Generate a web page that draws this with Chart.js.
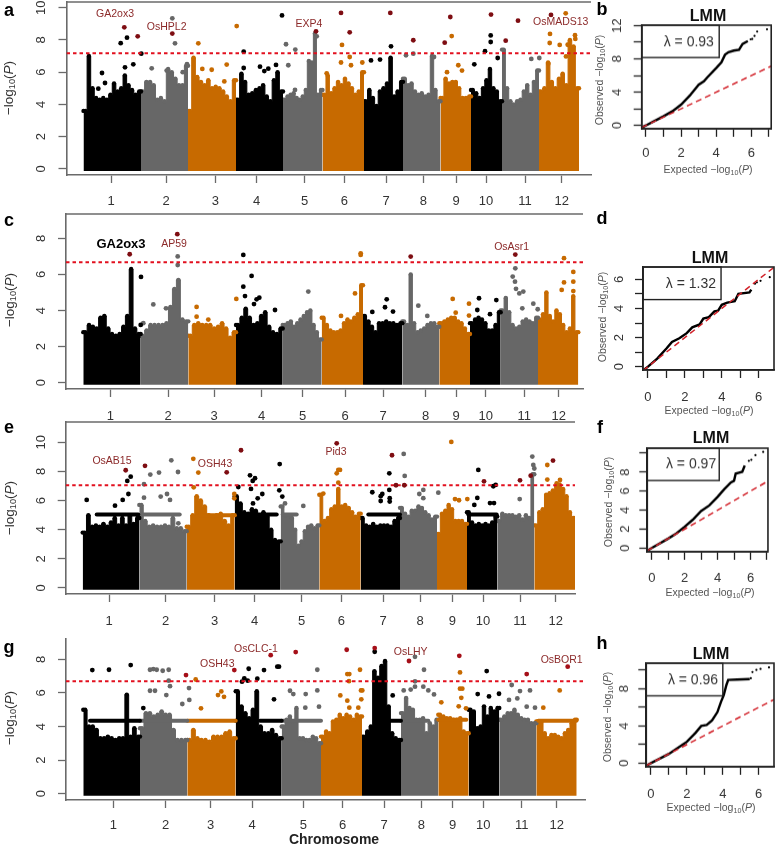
<!DOCTYPE html>
<html><head><meta charset="utf-8">
<style>
html,body{margin:0;padding:0;background:#fff;width:778px;height:845px;overflow:hidden;font-family:"Liberation Sans",Arial,sans-serif}
.wrap{position:absolute}
.t{position:absolute;white-space:nowrap;transform:translate(-50%,-50%);color:#333}
.rot{transform:translate(-50%,-50%) rotate(-90deg)}
sub{font-size:68%;line-height:0;vertical-align:-0.25em}
</style>
<script src="https://cdn.jsdelivr.net/npm/chart.js@4"></script>
</head><body>
<script>
// ---------- chromosome layout (genome position units) ----------
const chromosomes=["1","2","3","4","5","6","7","8","9","10","11","12"];
const edgesA=[0,57.5,104.5,152.5,199.5,239,280.5,319.5,357,387.5,418.5,455.5,495.5];
const edgesC=[0,57.4,105,152.7,199.4,238.4,279.7,319,356,386.7,417.4,454.7,495];
const edgesE=[0,56.6,104,152,198,236.6,278,317.3,354.3,384.3,414.6,451.6,492.3];
const edgesG=[0,56.7,104,152.4,198.4,237.7,278.7,317.7,355,385.4,416,453,493.4];
const ticksA=[27.5,82.5,131.8,173.2,221.2,260.8,302.5,339.8,372.5,402.5,441.5,478.2];
const ticksC=[27,84.7,130.7,178.4,219.4,261.7,299.7,342.4,372.7,402.4,441,475.4];
const ticksE=[26.3,83,132,172,219,258.6,300.3,337.3,369.6,400.3,437.3,473];
const ticksG=[30,82.4,127.4,168.7,220,259.4,300.7,338,369.4,400,438.4,473.4];
// ---------- upper envelope of the dense point mass, per chromosome ----------
const envA=[[3.6,7.0,5.0,4.4,4.3,4.4,4.3,4.6,5.3,4.8,5.0,5.8,5.2,4.9,4.6,4.8],
[4.8,5.4,5.4,5.2,4.3,4.4,4.2,6.2,6.0,5.6,5.2,5.2,6.4],
[3.6,6.9,5.7,5.4,5.2,5.5,5.0,5.1,5.0,4.8,4.5,4.2,5.5],
[4.3,5.9,5.4,4.6,4.7,4.9,5.0,5.2,4.5,4.2,5.5,6.0,4.8],
[4.3,4.5,4.6,4.7,4.4,4.3,4.5,4.9,6.7,6.6,8.4,4.6,4.9],
[4.6,5.8,4.7,5.0,5.4,5.2,5.6,5.3,5.0,4.6,4.8,6.0],
[4.2,4.9,4.4,3.9,4.8,5.0,5.3,6.9,4.5,4.8,5.4],
[5.6,5.2,5.3,4.8,4.6,4.7,4.5,4.6,7.0,4.9,4.2],
[4.4,5.6,5.3,5.4,5.4,5.0,4.4,4.4,4.5],
[4.9,4.7,4.4,5.0,5.5,6.2,5.0,4.8,4.2],
[7.4,5.0,4.2,4.0,4.2,4.3,4.8,5.2,4.6,5.4,6.1],
[4.8,5.0,6.6,5.4,5.0,5.6,5.9,5.2,8.0,7.6,5.0]];
const envC=[[2.8,3.2,3.1,3.0,3.6,3.7,3.0,2.7,2.6,2.7,3.1,3.7,6.3,3.0,2.7],
[2.6,2.9,3.2,3.2,3.2,3.2,3.3,4.2,5.2,5.7,3.5,3.4],
[2.6,3.2,3.3,3.2,3.2,3.2,3.0,3.1,3.3,3.0,2.5,2.8],
[3.2,3.6,4.1,3.6,3.2,3.3,3.7,3.9,3.1,2.8,2.7,3.0],
[3.2,3.3,3.4,3.1,3.3,3.5,3.7,3.9,4.0,3.2,2.8,2.4],
[3.6,3.2,2.9,2.8,2.8,2.9,3.3,3.5,3.4,3.6,3.8,5.4],
[3.7,3.4,3.1,2.8,3.3,3.3,3.4,3.3,3.3,3.2,3.3],
[3.4,3.2,6.0,3.3,2.8,2.9,3.0,3.2,3.3,3.3,3.1],
[3.3,3.4,3.5,3.6,3.6,3.4,3.3,3.0,2.7],
[3.3,3.5,3.6,3.5,3.3,2.9,2.9,3.2,3.9],
[4.0,4.7,3.9,3.2,3.0,3.1,3.4,3.5,3.4,3.3,3.6],
[3.5,3.8,5.0,3.7,3.4,4.0,3.8,3.2,2.8,3.0,4.8,2.8]];
const envE=[[3.8,5.0,4.2,4.3,4.2,4.4,4.2,4.5,4.8,4.3,4.8,4.3,5.0,4.4,4.8],
[5.7,4.6,4.2,4.3,4.2,4.2,4.3,4.2,4.8,4.1,4.1,3.9],
[4.2,5.0,6.3,6.0,5.6,5.0,4.9,5.0,5.1,4.6,4.3,5.0],
[6.3,5.8,5.2,5.1,5.4,5.3,4.9,5.2,4.9,4.0,3.3,3.2],
[5.6,5.0,5.0,4.8,4.0,2.9,3.2,3.9,4.2,4.3,4.1,4.3],
[6.4,4.6,4.8,5.4,5.6,6.8,5.6,5.7,5.5,5.2,4.9,5.1],
[4.8,4.3,4.2,4.4,4.2,4.3,4.3,4.3,4.2,4.6,4.8],
[5.5,5.1,4.9,5.3,5.3,5.6,5.5,5.2,5.0,4.7,4.9],
[3.7,5.1,5.3,5.7,5.4,4.6,4.6,4.6,4.4],
[5.2,4.5,4.3,4.4,4.3,4.4,4.3,4.5,4.9],
[4.6,5.1,5.0,5.0,5.0,4.9,5.0,4.7,5.0,4.8,7.8],
[4.3,5.2,5.4,6.4,6.5,6.7,7.0,7.1,6.8,6.3,5.2,4.8]];
const envG=[[5.0,4.0,4.0,3.8,3.3,3.3,3.4,3.3,3.2,3.3,3.3,5.9,3.4,3.9,3.4],
[3.9,4.8,4.8,4.6,4.7,4.9,4.7,4.7,3.8,3.2,3.2,3.2],
[3.2,3.8,3.3,3.2,3.2,3.1,3.4,3.4,3.4,3.6,3.7,3.3],
[6.1,5.2,4.8,4.5,5.0,6.1,4.0,3.6,3.6,3.8,3.5,3.3],
[4.0,4.4,4.6,4.3,5.1,3.3,3.3,3.2,3.2,3.4,3.3,3.0],
[3.4,3.7,3.6,4.3,4.4,4.7,4.5,4.7,4.6,4.4,4.7,4.6],
[3.4,3.7,4.0,7.3,6.9,7.6,7.9,5.2,3.6,3.3,3.2],
[4.8,5.7,5.1,5.0,4.4,4.4,4.5,3.6,4.2,4.0,4.4],
[4.7,4.6,4.5,4.5,4.4,4.4,4.5,3.7,3.6],
[5.0,4.9,3.9,4.0,5.2,4.6,5.1,4.9,5.1],
[4.4,4.6,4.8,4.8,5.0,4.7,4.5,4.4,4.4,4.2,4.2],
[4.3,4.3,3.6,3.3,3.5,3.5,3.4,3.3,3.6,3.8,4.2,4.4]];
// ---------- horizontal runs of tied P values [from,to,value,chromosome index] ----------
const bandsE=[[14,55.6,5.05,0],[60.6,97,5.05,1],[117,150,5.0,2],[157.3,194,5.05,3],[200,214,5.05,4],[285.6,317.3,5.05,6],[385.6,414,5.05,9]];
const bandsG=[[6.7,56.7,4.35,0],[56.7,104,4.35,1],[104,152.4,4.35,2],[152.4,165,4.35,3],[176.7,198.4,4.35,3],[198.4,237.7,4.35,4],[306.7,317.7,4.35,6],[317.7,345,4.35,7],[355,383,4.4,8],[455,493,4.35,11]];
// ---------- individually visible points ----------
const aRed=[[40.8,8.78],[54.2,8.22],[88.8,8.39],[232.5,8.53],[257.5,9.67],[266.2,8.47],[306.8,9.67],[329.8,7.98],[361.2,7.83],[366.8,9.42],[407.5,9.57],[422.2,7.95],[434.5,9.19],[467.5,9.55]];
const aBlack=[[43.5,8.14],[37.2,7.8],[57.8,7.15],[160.2,7.27],[198.5,9.52],[41.5,6.3],[49.8,6.49],[18.5,5.95],[21.5,5.33],[14.8,4.98],[176.5,6.34],[184.8,6.22],[180.8,6.07],[192.5,6.45],[160.2,6.26],[307.5,7.6],[287.5,6.73],[296.5,6.78],[407.2,8.28],[407.2,7.87],[401.5,7.3],[390.8,6.49],[414.2,6.88]];
const aGray=[[88.8,9.34],[91.5,7.79],[202.5,7.73],[211.8,7.4],[68.2,6.24],[83.2,6.1],[99.2,6.0],[103.5,6.5],[204.8,6.43],[211.5,4.9],[233.2,8.22],[329.8,7.15],[322.5,7.05],[350.5,6.94],[447.8,6.82],[455.8,6.88]];
const aOrange=[[114.8,7.79],[153.2,8.86],[118.8,6.2],[128.2,6.15],[143.2,6.47],[140.8,5.43],[258.5,7.69],[257.5,6.6],[266.2,6.94],[267.5,6.43],[278.8,6.6],[243.2,5.93],[368.2,8.24],[374.8,6.43],[363.5,6.0],[378.5,6.1],[482.2,9.65],[466.5,8.37],[466.2,7.81],[476.2,7.69],[484.2,7.7],[491.5,8.29],[491.8,8.06],[482.5,6.98],[464.8,6.53]];
const cRed=[[46.4,7.12],[94,8.23],[327.4,6.99],[432,7.1]];
const cBlack=[[57.7,5.86],[57.4,3.2],[160,7.08],[168.3,5.92],[160,5.32],[161.7,4.8],[173.3,4.62],[176,4.71],[170.7,4.36],[191.7,4.03],[395.7,4.68],[413,4.58],[394,4.03],[406.7,3.8],[303.4,4.62],[301.7,4.18],[289,3.92],[309.7,3.94]];
const cGray=[[94.4,7.0],[94.4,6.52],[70,4.34],[82.7,4.12],[60,3.3],[225,5.05],[335,4.27],[344,3.7],[432,6.34],[429.4,5.88],[431.7,5.6],[432.7,5.2],[440,5.05],[436,4.95],[454.4,4.07],[450,4.38],[439,4.12]];
const cOrange=[[153,4.64],[113.3,4.2],[113.3,3.66],[125,3.5],[277.4,7.08],[277.4,7.17],[480.7,6.9],[490,6.14],[480.7,5.56],[490,5.6],[490,5.08],[478.4,5.14],[369.4,4.64],[372.4,3.88],[385.7,4.38],[385.7,3.72],[271.7,4.95],[257.7,3.7]];
const eRed=[[43,8.08],[62.3,8.38],[144,7.94],[158.3,9.45],[254,9.93],[309.3,9.11],[313.3,7.05],[321.6,7.05],[401.3,7.32],[437.3,7.39],[448,7.71],[470.3,8.74]];
const eBlack=[[4,6.04],[48,7.64],[44.6,7.35],[45.7,6.45],[40,6.04],[32.3,5.65],[155.6,6.93],[167.3,7.73],[172.3,7.53],[170,7.35],[168.3,6.8],[179.6,6.45],[175,6.15],[170.3,5.8],[197,8.5],[196.6,6.7],[199.6,6.27],[289.6,6.57],[299.6,6.45],[306.6,7.87],[306.6,6.73],[307,6.16],[307,5.93],[298,5.97],[298,6.3],[395.6,8.1],[410.6,6.98],[413,7.07],[394.6,6.18],[391.6,5.7],[407.3,5.83],[411.3,5.83]];
const eGray=[[61.3,7.12],[67.6,7.78],[76.3,7.92],[88.6,8.76],[95.3,7.96],[61.3,6.2],[78,6.27],[84.3,6.45],[87.3,6.04],[95.6,4.44],[202.3,5.8],[321,9.2],[322,7.69],[340.6,6.73],[336.6,6.45],[340.6,6.16],[355.6,6.54],[449.6,9.02],[450.6,8.44],[451.6,8.2],[437,6.1],[220.6,5.63]];
const eOrange=[[110.6,8.86],[115.6,7.92],[111,6.91],[151.6,6.45],[151.6,6.15],[255.6,8.1],[257.3,8.1],[254,7.87],[255.6,7.23],[240.6,6.48],[368.6,10.02],[372.3,6.1],[376.3,6.02],[384.6,6.1],[464.6,8.44],[464.6,7.44],[477.3,7.41],[474,7.18]];
const gRed=[[102.7,7.06],[151,7.36],[187.4,8.25],[212.4,8.43],[263.4,8.57],[291.4,8.67],[325.7,7.9],[376,8.21],[443.4,7.12],[484.4,7.56]];
const gBlack=[[9,7.36],[25.7,7.38],[47.4,7.66],[165.4,7.44],[180.7,7.36],[194,7.56],[195.7,7.56],[161,6.87],[164.4,6.73],[174,6.85],[158.7,6.67],[190.7,5.62],[60,5.1],[291.4,8.45],[309.4,5.85],[403.4,7.3],[394.4,5.93],[405.7,5.79],[415.7,5.95]];
const gGray=[[70,7.42],[66.7,7.38],[73.4,7.38],[79.4,7.32],[85.4,7.38],[85.4,6.73],[86.7,6.4],[83,5.87],[105.7,6.29],[106,5.58],[99,5.34],[206.7,6.13],[210,5.93],[66.7,6.13],[71.7,6.13],[234,7.38],[234,6.15],[222.4,5.93],[222,5.12],[235.7,5.18],[331.7,8.15],[340.7,7.38],[331.7,6.69],[331.7,6.37],[327.4,6.2],[320.4,6.15],[340,6.37],[345,6.15],[350.7,5.91],[428.4,6.47],[436.7,6.11],[446.7,6.15],[425.7,5.58],[434,5.67],[443.4,5.18],[451.7,5.12]];
const gOrange=[[112.4,6.8],[138,6.09],[134.7,5.87],[140.7,5.77],[117.7,5.08],[264,7.12],[266,7.12],[265.7,6.7],[276.7,7.38],[277.7,6.15],[279,6.15],[257,5.85],[278,5.62],[264,5.54],[275,5.12],[266,5.12],[376.7,7.22],[376.7,6.25],[379,6.25],[378,5.71],[358,5.44],[375.4,5.2],[382.7,5.08],[476.4,6.15],[460,5.12]];
// ---------- gene annotations [name, position, height] ----------
const genesA=[["GA2ox3",31.5,9.63],["OsHPL2",83.2,8.82],["EXP4",225.5,8.97],["OsMADS13",477.2,9.13]];
const genesC=[["AP59",90.7,7.67],["OsAsr1",428.4,7.54]];
const genesCBold=[["GA2ox3",37.7,7.69]];
const genesE=[["OsAB15",29.3,8.69],["OSH43",132.3,8.49],["Pid3",253.3,9.33]];
const genesG=[["OsCLC-1",172.7,8.63],["OSH43",134,7.71],["OsLHY",327.4,8.4],["OsBOR1",478.4,7.96]];
// ---------- genome-wide significance thresholds ----------
const thresholdA=7.17, thresholdC=6.67, thresholdE=7.05, thresholdG=6.7;
// ---------- QQ curves [expected, observed] ----------
const qqB=[[-0.2,-0.2],[0,0],[0.5,0.55],[1,1.1],[1.5,1.7],[2,2.5],[2.5,3.6],[3,4.9],[3.3,5.3],[3.5,5.8],[4,6.9],[4.3,7.6],[4.5,8.5],[4.7,8.8],[5,9.0],[5.3,9.1],[5.5,9.8],[5.8,10.15]];
const qqBtail=[[5.96,10.36],[6.05,10.4],[6.18,10.76],[6.33,11.28],[6.89,11.56]];
const qqD=[[-0.2,-0.2],[0,0],[0.5,0.55],[1,1.25],[1.3,1.7],[1.7,1.95],[2.1,2.3],[2.4,2.7],[2.8,2.9],[3,3.3],[3.3,3.4],[3.6,3.8],[3.8,3.85],[4,4.25],[4.3,4.4],[4.7,4.5],[4.9,5.0],[5.5,5.1],[5.6,5.3]];
const qqDtail=[[5.8,5.7],[5.9,5.8],[6.1,5.9],[6.6,6.15]];
const qqF=[[-0.2,-0.2],[0,0],[1,1],[1.5,1.55],[2,2.25],[2.5,3.0],[3,3.9],[3.5,4.5],[4,5.4],[4.4,6.2],[4.8,6.9],[5,7.1],[5.1,7.85],[5.3,7.95],[5.5,8.05],[5.65,8.7]];
const qqFtail=[[5.9,9.2],[6.05,9.3],[6.3,9.8],[6.77,10.14]];
const qqH=[[-0.2,-0.2],[0,0],[1,1],[1.7,1.9],[2,2.3],[2.5,3.3],[2.8,4],[3.1,4.1],[3.4,4.6],[3.7,5.5],[3.9,6.6],[4.05,7.3],[4.2,8.4],[4.3,8.95],[4.8,9],[5.5,9.05]];
const qqHtail=[[5.56,9.14],[5.65,9.8],[5.87,10.03],[6.1,10.14],[6.57,10.3]];
const lambdas=["\u03bb = 0.93","\u03bb = 1.32","\u03bb = 0.97","\u03bb = 0.96"];

// ---------- styling ----------
const FONT='"Liberation Sans",Arial,sans-serif';
const BLACK='#000000',GRAY='#676767',ORANGE='#c76a00',TXT='#333333',SPINE='#6a6a6a',GENE='#8c2a2a';
const chrColor=[BLACK,GRAY,ORANGE,BLACK,GRAY,ORANGE,BLACK,GRAY,ORANGE,BLACK,GRAY,ORANGE];
const xy=a=>a.map(p=>({x:p[0],y:p[1]}));
Chart.defaults.font.family=FONT;
const TOPROOM=32; // room above the plot so that Chart.js's tick padding does not move it

function frame(l,t,w,h,plot,axisH){ // create canvas with an exact plot rectangle
  const d=document.createElement('div');d.className='wrap';
  d.style.cssText=`left:${l}px;top:${t}px;width:${w}px;height:${h}px`;
  const c=document.createElement('canvas');c.width=w;c.height=h;c.style.cssText=`display:block;width:${w}px;height:${h}px`;
  d.appendChild(c);document.body.appendChild(d);
  return {ctx:c,
    pad:{left:0,top:plot.t-t,right:l+w-plot.r,bottom:t+h-plot.b-axisH},
    axisW:plot.l-l};
}

function manhattan(p){
  const ds=[];
  p.env.forEach((vals,c)=>{
    const a=p.edges[c],b=p.edges[c+1],st=(b-a)/vals.length;
    const pts=[{x:a,y:vals[0]}];
    vals.forEach((v,i)=>pts.push({x:a+st*(i+.5),y:v}));
    pts.push({x:b,y:vals[vals.length-1]});
    ds.push({data:pts,stepped:'middle',borderColor:chrColor[c],backgroundColor:chrColor[c],borderWidth:1,borderJoinStyle:'round',
      fill:{target:{value:-0.12},above:chrColor[c],below:chrColor[c]},pointRadius:2.2,pointBorderWidth:0,pointBackgroundColor:chrColor[c],order:5});
  });
  (p.bands||[]).forEach(b=>ds.push({data:[{x:b[0],y:b[2]},{x:b[1],y:b[2]}],borderColor:chrColor[b[3]],borderWidth:4,borderCapStyle:'round',pointRadius:0,fill:false,order:4}));
  [[p.black,BLACK],[p.gray,GRAY],[p.orange,ORANGE]].forEach(s=>ds.push({data:xy(s[0]),showLine:false,pointRadius:2.4,pointBorderWidth:0,pointBackgroundColor:s[1],order:3}));
  ds.push({data:[{x:p.xmin,y:p.threshold},{x:p.xmax,y:p.threshold}],borderColor:'#e2101f',borderWidth:2,borderDash:[3.5,3],pointRadius:0,fill:false,order:2});
  ds.push({data:xy(p.red),showLine:false,pointRadius:2.4,pointBorderWidth:0,pointBackgroundColor:p.redColor||'#7e0d12',order:1});
  const f=frame(0,p.T-TOPROOM,p.plotR+4,p.B-p.T+TOPROOM+45,{l:p.L,t:p.T,r:p.plotR,b:p.B},45);
  new Chart(f.ctx,{type:'line',data:{datasets:ds},
    options:{responsive:false,animation:false,events:[],layout:{padding:f.pad},
      plugins:{legend:{display:false},tooltip:{enabled:false}},
      scales:{
        x:{type:'linear',min:p.xmin,max:p.xmax,offset:false,
          afterBuildTicks:s=>{s.ticks=p.xticks.map(v=>({value:v}))},
          afterFit:s=>{s.height=45},
          ticks:{autoSkip:false,maxRotation:0,minRotation:0,padding:p.xpad,color:TXT,font:{size:13},callback:(v,i)=>chromosomes[i]},
          grid:{drawOnChartArea:false,tickLength:8,color:SPINE,tickColor:SPINE,tickWidth:1.3},
          border:{display:true,color:SPINE,width:1.6}},
        y:{type:'linear',min:p.ymin,max:p.ymax,
          afterBuildTicks:s=>{s.ticks=p.yticks.map(v=>({value:v}))},
          afterFit:s=>{s.width=f.axisW},
          ticks:{autoSkip:false,minRotation:90,maxRotation:90,crossAlign:'center',padding:p.ypad,color:TXT,font:{size:13},callback:v=>String(v)},
          grid:{drawOnChartArea:false,tickLength:8,color:SPINE,tickColor:SPINE,tickWidth:1.3},
          border:{display:true,color:SPINE,width:1.6}}
      }},
    plugins:[{id:'notes',afterDatasetsDraw(ch){
      const g=ch.ctx,{x,y}=ch.scales,ar=ch.chartArea;
      if(p.topLine){g.save();g.strokeStyle=SPINE;g.lineWidth=1.6;g.beginPath();g.moveTo(ar.left,ar.top);g.lineTo(ar.right,ar.top);g.stroke();g.restore();}
      g.save();g.textAlign='center';g.textBaseline='middle';
      g.fillStyle=GENE;g.font='10.5px '+FONT;
      p.genes.forEach(n=>g.fillText(n[0],x.getPixelForValue(n[1]),y.getPixelForValue(n[2])));
      g.fillStyle='#000';g.font='bold 13px '+FONT;
      (p.genesBold||[]).forEach(n=>g.fillText(n[0],x.getPixelForValue(n[1]),y.getPixelForValue(n[2])));
      g.restore();
    }}]
  });
}

function qq(p){
  const diag=[{x:p.xmin,y:p.xmin},{x:p.xmax,y:p.xmax}];
  const ds=[
    {data:xy(p.curve),borderColor:'#000',borderWidth:2.4,pointRadius:0,fill:false,order:2},
    {data:xy(p.tail),showLine:false,pointRadius:1.1,pointBorderWidth:0,pointBackgroundColor:'#000',order:2},
    {data:diag,borderColor:'#d2222a',borderWidth:1.5,borderDash:[6,4],pointRadius:0,fill:false,order:1}];
  const f=frame(590,p.T-TOPROOM,188,p.B-p.T+TOPROOM+45,{l:p.L,t:p.T,r:p.R,b:p.B},45);
  new Chart(f.ctx,{type:'line',data:{datasets:ds},
    options:{responsive:false,animation:false,events:[],layout:{padding:f.pad},
      plugins:{legend:{display:false},tooltip:{enabled:false}},
      scales:{
        x:{type:'linear',min:p.xmin,max:p.xmax,
          afterBuildTicks:s=>{s.ticks=[0,1,2,3,4,5,6,7].filter(v=>v<=p.xmax).map(v=>({value:v}))},
          afterFit:s=>{s.height=45},
          ticks:{autoSkip:false,maxRotation:0,minRotation:0,padding:p.xpad,color:TXT,font:{size:13},callback:v=>v%2===0&&v<7?String(v):''},
          grid:{drawOnChartArea:false,tickLength:8,color:'#222',tickColor:'#222',tickWidth:1.3},
          border:{display:true,color:'#222',width:1.6}},
        y:{type:'linear',min:p.ymin,max:p.ymax,
          afterBuildTicks:s=>{s.ticks=p.yticks.map(v=>({value:v}))},
          afterFit:s=>{s.width=f.axisW},
          ticks:{autoSkip:false,minRotation:90,maxRotation:90,crossAlign:'center',padding:p.ypad,color:TXT,font:{size:13},callback:v=>p.ylabels.includes(v)?String(v):''},
          grid:{drawOnChartArea:false,tickLength:8,color:'#222',tickColor:'#222',tickWidth:1.3},
          border:{display:true,color:'#222',width:1.6}}
      }},
    plugins:[{id:'box',afterDatasetsDraw(ch){
      const g=ch.ctx,{x,y}=ch.scales,ar=ch.chartArea;
      g.save();g.strokeStyle='#222';g.lineWidth=1.6;
      g.strokeRect(ar.left,ar.top,ar.right-ar.left,ar.bottom-ar.top);
      g.lineWidth=1.4;
      g.strokeRect(ar.left,ar.top,x.getPixelForValue(p.boxX)-ar.left,y.getPixelForValue(p.boxY)-ar.top);
      g.fillStyle=TXT;g.font='14px '+FONT;g.textAlign='center';g.textBaseline='middle';
      g.fillText(p.lambda,x.getPixelForValue(p.textX),y.getPixelForValue(p.textY));
      g.restore();
    }}]
  });
}

manhattan({env:envA,edges:edgesA,xticks:ticksA,threshold:thresholdA,red:aRed,black:aBlack,gray:aGray,orange:aOrange,genes:genesA,
  L:66.5,T:2,B:175,plotR:591,xmin:-17,xmax:507.5,ymin:-0.372,ymax:10.35,yticks:[0,2,4,6,8,10],xpad:11,ypad:9.5,topLine:true});
manhattan({env:envC,edges:edgesC,xticks:ticksC,threshold:thresholdC,red:cRed,black:cBlack,gray:cGray,orange:cOrange,genes:genesC,genesBold:genesCBold,
  L:66,T:214,B:389,plotR:583,xmin:-17.3,xmax:499.7,ymin:-0.35,ymax:9.35,yticks:[0,2,4,6,8],xpad:12,ypad:13,topLine:true});
manhattan({env:envE,edges:edgesE,bands:bandsE,xticks:ticksE,threshold:thresholdE,red:eRed,black:eBlack,gray:eGray,orange:eOrange,genes:genesE,
  L:65.7,T:422,B:594,plotR:575,xmin:-17,xmax:492.3,ymin:-0.412,ymax:11.39,yticks:[0,2,4,6,8,10],xpad:12,ypad:9.5,topLine:true});
manhattan({env:envG,edges:edgesG,bands:bandsG,xticks:ticksG,threshold:thresholdG,red:gRed,redColor:'#a50f18',black:gBlack,gray:gGray,orange:gOrange,genes:genesG,
  L:66,T:639,B:800,plotR:585,xmin:-17.3,xmax:501.7,ymin:-0.375,ymax:9.21,yticks:[0,2,4,6,8],xpad:10,ypad:13,topLine:false});

qq({curve:qqB,tail:qqBtail,L:641.7,R:774.3,T:25.3,B:129,xmin:-0.24,xmax:7.13,ymin:-0.4,ymax:12.05,yticks:[0,2,4,6,8,10,12],ylabels:[0,4,8,12],boxX:4.17,boxY:8.16,textX:2.44,textY:10,lambda:lambdas[0],xpad:9,ypad:9.3});
qq({curve:qqD,tail:qqDtail,L:643,R:776.3,T:266.7,B:370,xmin:-0.27,xmax:6.83,ymin:-0.23,ymax:6.85,yticks:[0,1,2,3,4,5,6],ylabels:[0,2,4,6],boxX:3.96,boxY:4.61,textX:2.33,textY:5.66,lambda:lambdas[1],xpad:11.7,ypad:12.2});
qq({curve:qqF,tail:qqFtail,L:647.3,R:774.3,T:448,B:551.7,xmin:-0.27,xmax:7.06,ymin:-0.39,ymax:10.53,yticks:[0,2,4,6,8,10],ylabels:[0,2,4,6,8],boxX:4.1,boxY:7.12,textX:2.39,textY:8.8,lambda:lambdas[2],xpad:11,ypad:10.1});
qq({curve:qqH,tail:qqHtail,L:646.3,R:775,T:663.3,B:767,xmin:-0.26,xmax:6.85,ymin:-0.39,ymax:10.75,yticks:[0,2,4,6,8,10],ylabels:[0,4,8],boxX:4.0,boxY:7.24,textX:2.34,textY:8.89,lambda:lambdas[3],xpad:11.7,ypad:10.5});

// ---------- text around the panels ----------
function txt(html,x,y,css,rot){const e=document.createElement('div');e.className='t'+(rot?' rot':'');e.innerHTML=html;e.style.cssText=`left:${x}px;top:${y}px;${css||''}`;document.body.appendChild(e);}
[["a",9,10],["b",602,9],["c",9,220],["d",602,218],["e",9,427],["f",600,427],["g",9,647],["h",602,643]].forEach(l=>txt(l[0],l[1],l[2],'font:bold 18px '+FONT+';color:#000'));
const mlog='\u2212log<sub>10</sub>(<i>P</i>)';
[88,300,508,718].forEach((y,i)=>txt(mlog,[8,9,9,9][i],y,'font:13.5px '+FONT,true));
txt('Chromosome',334,839,'font:bold 14px '+FONT+';color:#222');
[[708,15.7],[710,258],[711,438],[711,654]].forEach(p=>txt('LMM',p[0],p[1],'font:bold 16px '+FONT+';color:#111'));
[[599,80],[602,317],[608,502],[607,717]].forEach(p=>txt('Observed \u2212log<sub>10</sub>(<i>P</i>)',p[0],p[1],'font:10.5px '+FONT+';color:#555',true));
[[708,169],[709,410],[710,592],[711,807]].forEach(p=>txt('Expected \u2212log<sub>10</sub>(<i>P</i>)',p[0],p[1],'font:10.5px '+FONT+';color:#555'));
</script>
</body></html>
